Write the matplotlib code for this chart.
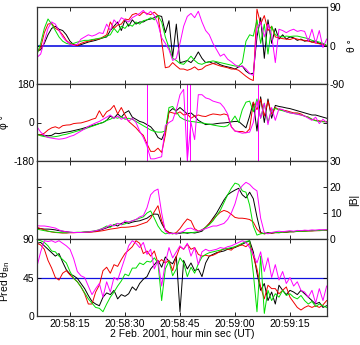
#!/usr/bin/env python3
"""Four-spacecraft field angles, |B| and predicted theta_Bn, 2 Feb 2001."""

import matplotlib

matplotlib.use("Agg")
import matplotlib.pyplot as plt  # noqa: E402
import numpy as np  # noqa: E402

plt.rcParams["font.family"] = ["Liberation Sans", "DejaVu Sans"]
plt.rcParams["font.size"] = 7.5

# seconds after 20:58:00 UT, one sample per second
TIME = np.arange(6, 86)

TICK_SECONDS = [15, 30, 45, 60, 75]
TICK_LABELS = ["20:58:15", "20:58:30", "20:58:45", "20:59:00", "20:59:15"]

COLORS = {"black": "black", "red": "#f00000", "green": "#00dd00", "magenta": "#ff00ff"}

THETA_BLACK = [
    -13, -10, 5, 25, 40, 45, 38, 35, 25, 10,
    2, 0, 2, 5, 8, 10, 12, 15, 18, 20,
    35, 45, 55, 35, 60, 45, 60, 50, 55, 55,
    60, 62, 65, 70, 68, 30, 58, -28, 50, -40,
    -38, -35, -40, -30, -15, -30, -40, -38, -42, -40,
    -45, -48, -50, -52, -55, -50, -48, -60, -66, -65,
    20, 65, -30, 60, 5, 40, 15, 25, 15, 20,
    18, 12, 15, 10, 12, 8, 10, 5, 3, 0,
]
THETA_RED = [
    -16, -5, 30, 50, 52, 40, 35, 25, 12, 5,
    2, 0, 5, 8, 10, 12, 15, 15, 20, 25,
    55, 40, 48, 50, 62, 60, 72, 75, 70, 78,
    75, 72, 78, 70, 10, -52, -50, -40, -48, -55,
    -55, -58, -55, -50, -57, -55, -48, -45, -42, -45,
    -48, -50, -52, -55, -55, -58, -65, -72, -78, -82,
    85, 50, 70, 35, 45, 20, 18, 16, 15, 14,
    17, 15, 13, 12, 10, 8, 6, 4, 2, 0,
]
THETA_GREEN = [
    -21, 5, 40, 62, 50, 35, 20, 10, 5, 3,
    5, 8, 10, 12, 12, 14, 15, 17, 18, 22,
    25, 40, 30, 45, 40, 50, 45, 55, 50, 58,
    60, 65, 60, 70, 55, 20, -5, -30, -35, -42,
    -44, -35, -25, -35, -42, -44, -40, -38, -36, -38,
    -40, -42, -44, -46, -48, -48, -40, 10, 25, 22,
    60, 5, 50, -20, 45, 25, 22, 20, 22, 21,
    22, 22, 20, 18, 16, 12, 10, 8, 5, 0,
]
THETA_MAGENTA = [
    -28, -20, 10, 40, 55, 50, 35, 20, 10, 3,
    0, 3, 15, 20, 25, 22, 25, 30, 28, 50,
    35, 60, 50, 65, 60, 55, 65, 70, 75, 82,
    72, 80, 70, 50, 18, 5, -10, -35, -30, 5,
    45, 68, 75, 65, 80, 55, 35, 25, 5, -10,
    -25, -20, -32, -38, -45, -50, -48, -55, -65, -70,
    40, 55, 20, 50, 25, -40, 38, 35, 30, 35,
    38, 33, 35, 33, 10, 38, 5, 35, -5, 15,
]

PHI_BLACK = [
    -55, -58, -60, -62, -60, -50, -52, -48, -45, -42,
    -38, -34, -30, -25, -20, -15, -10, -5, 0, 10,
    30, 20, 40, 25, 45, 55, 25, 15, 5, 0,
    -10, -20, -40, -70, -80, -40, 50, 65, 55, 70,
    55, 40, 45, 30, 10, 0, -10, -8, -8, -5,
    -3, -2, 0, 3, 5, 5, -10, -25, 30, 95,
    -40, 120, 0, 110, 20, 80, 75, 72, 68, 65,
    60, 55, 50, 45, 40, 35, 35, 30, 25, 20,
]
PHI_RED = [
    -58, -58, -50, -35, -25, -20, -27, -15, -12, -11,
    -5, -3, -2, 3, 8, 15, 20, 55, 25, 50,
    60, 80, 40, 70, 35, 5, -10, -25, -45, -60,
    -100, -135, -135, -120, -140, -60, 50, 45, 40, 50,
    35, 40, 20, 30, 35, 30, 28, 35, 40, 38,
    35, 40, 35, -20, -40, -42, -42, -48, -30, 95,
    60, 110, 30, 100, 40, 70, 60, 58, 55, 50,
    45, 45, 40, 30, 25, 15, 10, 8, 5, 5,
]
PHI_GREEN = [
    -55, -62, -66, -68, -68, -66, -63, -58, -55, -50,
    -45, -40, -35, -30, -24, -18, -12, -5, 0, 10,
    15, 25, 20, 28, 15, 20, 15, 5, -5, -15,
    -25, -35, -42, -45, -45, -40, 70, 75, 50, 25,
    15, 8, 5, 3, 0, -2, -5, -8, -12, -15,
    -18, -20, -15, 5, 30, 0, 60, 95, 100, 50,
    110, 20, 90, 0, 60, 65, 60, 55, 50, 45,
    42, 40, 35, 30, 25, 15, 8, 5, 3, 3,
]
PHI_MAGENTA = [
    -20, -45, -60, -70, -73, -76, -78, -76, -72, -65,
    -60, -50, -40, -30, -18, -10, -2, 5, 15, 25,
    35, 20, 30, 15, 25, 5, 20, 0, -40, -70,
    -110, -170, -170, -165, -160, -15, 0, 10, 60, 130,
    155, -178, 0, -80, 130, 130, 115, 110, 100, 95,
    90, 70, 40, -20, -40, -45, -50, -48, -45, 0,
    100, 20, 90, -10, 70, 10, 65, 60, 50, 45,
    42, 38, 35, 30, 20, 10, 25, -5, 15, 0,
]
# full-height azimuth wrap spikes of the magenta trace
PHI_SPIKE_TIMES = [35.9, 46.8, 47.6, 66.4]

B_BLACK = [
    4.1, 4.0, 3.8, 3.8, 3.7, 3.5, 3.2, 3.0, 2.8, 2.6,
    2.5, 2.5, 2.5, 2.6, 2.7, 2.8, 3.0, 3.3, 3.8, 4.3,
    4.8, 5.5, 5.0, 6.0, 6.4, 6.0, 6.5, 6.8, 7.0, 7.5,
    8.0, 9.0, 9.6, 9.5, 6.0, 3.5, 2.5, 2.2, 2.0, 2.2,
    2.5, 2.2, 2.5, 2.3, 2.6, 3.0, 4.5, 6.0, 8.0, 10.0,
    12.5, 15.0, 17.0, 18.0, 18.8, 19.5, 17.0, 15.8, 18.0, 15.5,
    8.5, 2.5, 2.0, 2.5, 2.2, 2.5, 2.4, 2.6, 2.6, 2.8,
    2.8, 3.0, 3.0, 3.1, 3.2, 3.2, 3.3, 3.3, 3.4, 3.4,
]
B_RED = [
    4.5, 4.0, 3.5, 3.0, 2.7, 2.5, 2.4, 2.3, 2.3, 2.4,
    2.4, 2.5, 2.5, 2.6, 2.6, 2.7, 2.8, 3.0, 3.2, 3.5,
    3.8, 4.0, 4.2, 4.5, 4.5, 4.6, 4.8, 5.0, 5.5, 6.0,
    6.5, 8.0, 10.5, 12.8, 7.0, 3.5, 2.5, 2.0, 2.5, 4.0,
    6.0, 7.7, 7.0, 4.0, 3.0, 3.5, 4.5, 6.0, 7.5, 9.0,
    10.3, 11.0, 10.5, 9.5, 8.3, 8.0, 8.0, 7.8, 7.5, 6.5,
    3.8, 2.3, 2.0, 2.2, 2.3, 2.4, 2.5, 2.6, 2.7, 2.8,
    2.8, 2.9, 3.0, 3.0, 3.1, 3.1, 3.2, 3.2, 3.3, 3.3,
]
B_GREEN = [
    3.8, 3.5, 3.2, 3.0, 2.8, 2.6, 2.5, 2.4, 2.4, 2.5,
    2.5, 2.6, 2.6, 2.7, 2.8, 3.0, 3.2, 3.6, 4.2, 5.0,
    4.5, 5.5, 6.0, 5.5, 5.8, 6.5, 7.0, 7.5, 8.0, 8.5,
    10.0, 10.8, 8.0, 5.0, 3.0, 2.0, 2.2, 2.0, 2.2, 2.5,
    2.3, 2.5, 2.4, 2.6, 2.8, 3.5, 4.5, 5.5, 7.0, 9.0,
    11.0, 14.0, 17.0, 19.5, 21.5, 21.0, 18.5, 18.0, 13.0, 5.0,
    1.5, 2.0, 2.2, 2.3, 2.4, 2.5, 2.5, 2.6, 2.7, 2.8,
    2.8, 2.9, 3.0, 3.0, 3.1, 3.2, 3.2, 3.3, 3.3, 3.4,
]
B_MAGENTA = [
    5.1, 5.0, 5.0, 4.8, 4.5, 4.2, 3.5, 3.0, 2.8, 2.6,
    2.5, 2.5, 2.5, 2.6, 2.7, 2.9, 3.2, 3.5, 4.0, 4.5,
    5.5, 5.0, 6.0, 5.5, 7.0, 6.5, 7.0, 7.5, 8.5, 9.0,
    12.0, 17.0, 18.5, 19.2, 10.0, 3.0, 2.0, 2.2, 2.0, 2.5,
    3.0, 4.0, 4.2, 3.5, 3.0, 3.5, 4.0, 4.5, 5.0, 5.0,
    5.5, 6.0, 7.5, 10.0, 13.5, 18.5, 20.5, 21.8, 21.0, 19.5,
    18.5, 8.0, 2.5, 2.0, 2.5, 2.8, 3.0, 2.8, 3.0, 3.2,
    3.0, 3.3, 3.2, 3.4, 3.3, 3.5, 3.4, 3.6, 3.5, 3.6,
]

BN_BLACK = [
    85, 86, 82, 78, 74, 70, 73, 63, 54, 49,
    47, 44, 38, 32, 24, 17, 14, 12, 22, 27,
    25, 30, 20, 25, 23, 26, 34, 30, 38, 43,
    46, 55, 60, 65, 57, 69, 64, 61, 70, 5,
    65, 55, 62, 53, 55, 46, 62, 70, 72, 74,
    75, 76, 78, 79, 80, 82, 84, 86, 88, 75,
    50, 30, 38, 18, 28, 14, 36, 30, 25, 30,
    28, 25, 30, 26, 22, 18, 14, 16, 10, 12,
]
BN_RED = [
    85, 83, 78, 65, 56, 45, 42, 50, 53, 48,
    44, 40, 34, 26, 14, 14, 28, 36, 53, 57,
    50, 60, 58, 66, 73, 77, 81, 88, 85, 73,
    76, 70, 76, 62, 66, 62, 65, 53, 69, 81,
    78, 84, 78, 80, 72, 70, 71, 70, 71, 73,
    76, 79, 78, 77, 81, 82, 83, 81, 85, 70,
    55, 34, 20, 36, 32, 32, 26, 30, 34, 22,
    16, 10, 7, 10, 12, 10, 12, 10, 13, 18,
]
BN_GREEN = [
    89, 88, 86, 82, 76, 75, 70, 66, 62, 52,
    44, 40, 34, 27, 20, 15, 10, 9, 5, 14,
    22, 28, 35, 41, 49, 47, 56, 56, 62, 60,
    64, 63, 68, 62, 18, 55, 64, 47, 55, 68,
    62, 46, 57, 50, 61, 69, 72, 74, 75, 76,
    77, 78, 79, 80, 81, 83, 85, 87, 88, 50,
    5, 70, 3, 30, 18, 26, 22, 30, 24, 26,
    22, 20, 24, 18, 14, 17, 11, 14, 12, 10,
]
BN_MAGENTA = [
    58, 75, 88, 87, 88, 86, 88, 85, 82, 78,
    67, 52, 47, 45, 35, 25, 32, 38, 22, 40,
    28, 45, 42, 55, 68, 82, 88, 85, 80, 86,
    72, 78, 55, 65, 35, 62, 80, 68, 75, 82,
    78, 85, 70, 80, 60, 75, 78, 76, 77, 78,
    80, 79, 81, 82, 84, 86, 88, 86, 80, 72,
    62, 75, 52, 68, 45, 60, 42, 52, 38, 45,
    35, 40, 30, 28, 22, 30, 15, 32, 18, 35,
]

LEFT, WIDTH = 37 / 360, 290 / 360
PANEL_ROWS_PX = [(7, 84), (84, 161), (161, 239), (239, 316)]


def add_panel(fig, top_px, bottom_px):
    bottom = 1 - bottom_px / 345
    height = (bottom_px - top_px) / 345
    ax = fig.add_axes([LEFT, bottom, WIDTH, height])
    ax.set_xlim(6, 85.1)
    ax.set_xticks(TICK_SECONDS)
    ax.tick_params(direction="in", top=True, bottom=True, left=True, right=True,
                   length=3, width=0.6, labelsize=7.5, pad=2)
    for spine in ax.spines.values():
        spine.set_linewidth(0.9)
        spine.set_color("#333333")
    return ax


def draw_series(ax, series):
    for name, values in zip(("black", "red", "green", "magenta"), series):
        ax.plot(TIME, values, color=COLORS[name], linewidth=0.7)


def label_right(ax):
    ax.yaxis.tick_right()
    ax.tick_params(left=True, labelleft=False, labelright=True)
    ax.yaxis.set_label_position("right")


def main():
    fig = plt.figure(figsize=(3.6, 3.45), dpi=100)
    axes = [add_panel(fig, t, b) for t, b in PANEL_ROWS_PX]

    ax = axes[0]
    ax.axhline(0, color="#1010e0", linewidth=1.2, zorder=1)
    draw_series(ax, [THETA_BLACK, THETA_RED, THETA_GREEN, THETA_MAGENTA])
    ax.set_ylim(-90, 90)
    ax.set_yticks([-90, 0, 90])
    ax.set_yticklabels(["-90", "0", "90"])
    label_right(ax)
    ax.set_ylabel("θ °", rotation=90)
    ax.yaxis.set_label_coords(1.07, 0.5)

    ax = axes[1]
    draw_series(ax, [PHI_BLACK, PHI_RED, PHI_GREEN, PHI_MAGENTA])
    ax.vlines(PHI_SPIKE_TIMES, -180, 180, color=COLORS["magenta"], linewidth=0.7)
    ax.set_ylim(-180, 180)
    ax.set_yticks([-180, 0, 180])
    ax.set_yticklabels(["-180", "0", "180"])
    ax.set_ylabel("φ °")
    ax.yaxis.set_label_coords(-0.095, 0.5)

    ax = axes[2]
    draw_series(ax, [B_BLACK, B_RED, B_GREEN, B_MAGENTA])
    ax.set_ylim(0, 30)
    ax.set_yticks([0, 10, 20, 30])
    label_right(ax)
    ax.set_ylabel("|B|", rotation=90)
    ax.yaxis.set_label_coords(1.075, 0.5)

    ax = axes[3]
    ax.axhline(45, color="#1010e0", linewidth=0.9, zorder=1)
    draw_series(ax, [BN_BLACK, BN_RED, BN_GREEN, BN_MAGENTA])
    ax.set_ylim(0, 90)
    ax.set_yticks([0, 45, 90])
    ax.set_ylabel("Pred θ$_{\\mathrm{Bn}}$")
    ax.yaxis.set_label_coords(-0.085, 0.45)

    for ax in axes[:3]:
        ax.tick_params(labelbottom=False)
    axes[3].set_xticklabels(TICK_LABELS)
    axes[3].set_xlabel("2 Feb. 2001, hour min sec (UT)", labelpad=0)

    fig.savefig("out.png", dpi=100)
    plt.close(fig)


if __name__ == "__main__":
    main()
